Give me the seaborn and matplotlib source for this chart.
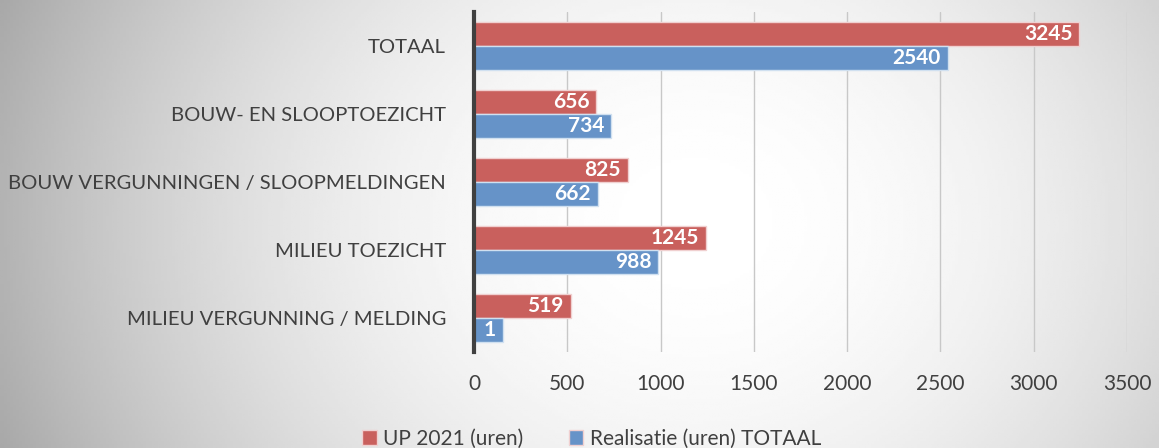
import numpy as np
import pandas as pd
import matplotlib.pyplot as plt
import seaborn as sns

categories = ['TOTAAL', 'BOUW- EN SLOOPTOEZICHT', 'BOUW VERGUNNINGEN / SLOOPMELDINGEN',
              'MILIEU TOEZICHT', 'MILIEU VERGUNNING / MELDING']
up2021 = [3245, 656, 825, 1245, 519]
# bar lengths as drawn; the last bar is drawn to about 155 though its label says 1
realisatie = [2540, 734, 662, 988, 155]
up2021_labels = ['3245', '656', '825', '1245', '519']
realisatie_labels = ['2540', '734', '662', '988', '1']
series = ['UP 2021 (uren)', 'Realisatie (uren) TOTAAL']

df = pd.DataFrame({
    'cat': categories * 2,
    'uren': up2021 + realisatie,
    'serie': [series[0]] * 5 + [series[1]] * 5,
})

sns.set_style('white')
plt.rcParams['font.family'] = ['Lato', 'DejaVu Sans']
txt = '#404040'

fig = plt.figure(figsize=(11.59, 4.48), dpi=100)

# background gradient
bg = fig.add_axes([0, 0, 1, 1], zorder=-10)
xx, yy = np.meshgrid(np.linspace(0, 1, 400), np.linspace(0, 1, 160))
r = np.sqrt(((xx - 0.6) / 0.55) ** 2 + ((yy - 0.5) / 1.2) ** 2)
shade = 1 - 0.25 * np.clip(r, 0, 1.2) ** 2
bg.imshow(shade, cmap='gray', vmin=0, vmax=1, aspect='auto', extent=[0, 1, 0, 1])
bg.axis('off')

ax = fig.add_axes([474 / 1159, 1 - 352 / 448, (1127 - 474) / 1159, 340 / 448])
ax.patch.set_alpha(0)
sns.barplot(data=df, y='cat', x='uren', hue='serie', orient='h', ax=ax,
            palette=['#C9605D', '#6693C8'], width=0.72, saturation=1,
            edgecolor='#F0D0D0', linewidth=1, legend=True)
for p in ax.patches[5:10]:
    p.set_edgecolor('#D0E0F0')

for cont, labs in zip(ax.containers[:2], [up2021_labels, realisatie_labels]):
    texts = ax.bar_label(cont, labels=labs, padding=-5, color='white',
                         fontsize=15, fontweight='bold')
    for t in texts:
        t.set_ha('right')

ax.set_xlim(0, 3500)
ax.set_ylim(4.5, -0.5)
ax.set_xticks(range(0, 3501, 500))
ax.grid(axis='x', color='#C8C8C8', linewidth=1)
ax.set_axisbelow(True)
for s in ['top', 'right', 'bottom']:
    ax.spines[s].set_visible(False)
ax.spines['left'].set_color('#404040')
ax.spines['left'].set_linewidth(3)
ax.tick_params(axis='both', length=0, labelcolor=txt)
ax.tick_params(axis='x', pad=16, labelsize=15)
ax.tick_params(axis='y', pad=20, labelsize=14.6)
ax.set_xlabel('')
ax.set_ylabel('')

ax.legend(loc='center', bbox_to_anchor=(0.18, -0.255), ncol=2, frameon=False,
          fontsize=15, labelcolor=txt, handlelength=0.7, handleheight=0.7,
          handletextpad=0.3, columnspacing=2.2)

fig.savefig('out.png', dpi=100)
